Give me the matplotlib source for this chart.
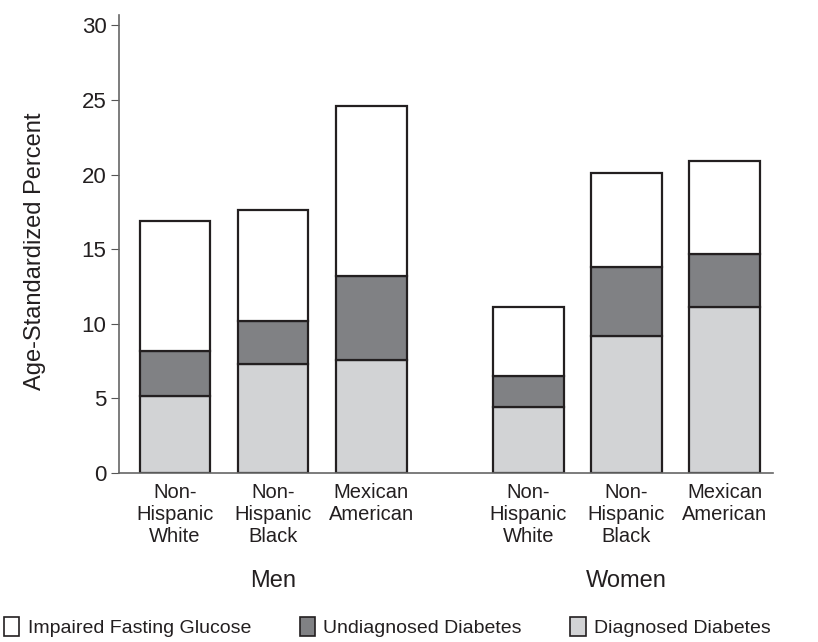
import numpy as np
import matplotlib.pyplot as plt
from matplotlib.patches import Patch

plt.rcParams['font.family'] = ['Liberation Sans', 'DejaVu Sans']

categories = ["Non-\nHispanic\nWhite", "Non-\nHispanic\nBlack", "Mexican\nAmerican",
              "Non-\nHispanic\nWhite", "Non-\nHispanic\nBlack", "Mexican\nAmerican"]
groups = ["Men", "Women"]

# cumulative tops, converted to segment heights
diagnosed = [5.2, 7.3, 7.6, 4.4, 9.2, 11.1]
undiagnosed_top = [8.2, 10.2, 13.2, 6.5, 13.8, 14.7]
total = [16.9, 17.6, 24.6, 11.1, 20.1, 20.9]

undiagnosed = [u - d for u, d in zip(undiagnosed_top, diagnosed)]
impaired = [t - u for t, u in zip(total, undiagnosed_top)]

x = np.array([0, 1, 2, 3.6, 4.6, 5.6])
w = 0.72
edge = "#231f20"
c_diag = "#d2d3d5"
c_undiag = "#808184"
c_ifg = "white"

fig = plt.figure(figsize=(8.18, 6.42), dpi=100)
ax = fig.add_axes([0.1455, 0.263, 0.799, 0.714])

ax.bar(x, diagnosed, w, color=c_diag, edgecolor=edge, linewidth=1.6)
ax.bar(x, undiagnosed, w, bottom=diagnosed, color=c_undiag, edgecolor=edge, linewidth=1.6)
ax.bar(x, impaired, w, bottom=undiagnosed_top, color=c_ifg, edgecolor=edge, linewidth=1.6)

ax.set_xlim(-0.57, 6.09)
ax.set_ylim(0, 30.7)
ax.set_yticks([0, 5, 10, 15, 20, 25, 30])
ax.set_xticks(x)
ax.set_xticklabels(categories, fontsize=14.5, linespacing=1.2, color="#231f20")
ax.tick_params(axis='x', length=0, pad=7)
ax.tick_params(axis='y', labelsize=16, length=6, color="#555555", pad=3,
               labelcolor="#231f20")
ax.set_ylabel("Age-Standardized Percent", fontsize=17, color="#231f20")
ax.yaxis.set_label_coords(-0.112, 0.485)

for s in ["top", "right"]:
    ax.spines[s].set_visible(False)
for s in ["left", "bottom"]:
    ax.spines[s].set_color("#666666")
    ax.spines[s].set_linewidth(1.2)

ax.text(1, -0.235, groups[0], transform=ax.get_xaxis_transform(),
        ha="center", va="center", fontsize=17, color="#231f20")
ax.text(4.6, -0.235, groups[1], transform=ax.get_xaxis_transform(),
        ha="center", va="center", fontsize=17, color="#231f20")

handles = [Patch(facecolor=c_ifg, edgecolor=edge, linewidth=1.2, label="Impaired Fasting Glucose"),
           Patch(facecolor=c_undiag, edgecolor=edge, linewidth=1.2, label="Undiagnosed Diabetes"),
           Patch(facecolor=c_diag, edgecolor=edge, linewidth=1.2, label="Diagnosed Diabetes")]
leg = fig.legend(handles=handles, loc="center left", bbox_to_anchor=(0.0, 1 - 627 / 642),
                 ncol=3, frameon=False, fontsize=14, handlelength=0.8, handleheight=1.15,
                 handletextpad=0.42, columnspacing=2.5, borderaxespad=0, borderpad=0.2)
for t in leg.get_texts():
    t.set_color("#231f20")

fig.savefig("out.png", dpi=100)
